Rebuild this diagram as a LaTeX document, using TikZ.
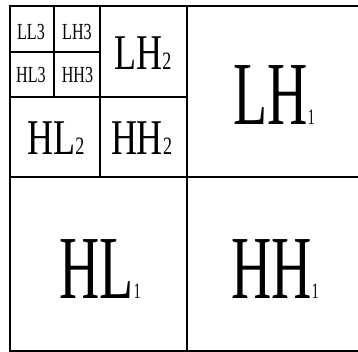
\documentclass[tikz,border=0pt]{standalone}
\usepackage{fontspec}
\setmainfont{Liberation Serif}
\tikzset{
  grid line/.style={line width=1.5pt, black},
  bigtxt/.style={inner sep=0pt, font=\fontsize{90}{90}\selectfont},
  midtxt/.style={inner sep=0pt, font=\fontsize{50}{50}\selectfont},
  smalltxt/.style={inner sep=0pt, font=\fontsize{23}{23}\selectfont},
}
\newcommand{\bigsub}[2]{\scalebox{0.62}[1]{#1{\fontsize{22}{22}\selectfont #2}}}
\newcommand{\midsub}[2]{\scalebox{0.72}[1]{#1{\fontsize{25}{25}\selectfont #2}}}
\newcommand{\smalllab}[1]{\scalebox{0.7}[1]{#1}}
\begin{document}
\begin{tikzpicture}[x=1pt,y=-1pt]
\useasboundingbox (0,0) rectangle (358,352);
% outer frame
\draw[grid line] (358,6) -- (10,6) -- (10,351) -- (358,351);
% level 1
\draw[grid line] (187,6) -- (187,351);
\draw[grid line] (10,177) -- (358,177);
% level 2
\draw[grid line] (100,6) -- (100,177);
\draw[grid line] (10,97) -- (187,97);
% level 3
\draw[grid line] (54,6) -- (54,97);
\draw[grid line] (10,52) -- (100,52);
% labels
\node[bigtxt] (lh1) at (274,95) {\bigsub{LH}{1}};
\node[bigtxt] (hl1) at (100,269) {\bigsub{HL}{1}};
\node[bigtxt] (hh1) at (275,269) {\bigsub{HH}{1}};
\node[midtxt] (lh2) at (143,53.5) {\midsub{LH}{2}};
\node[midtxt] (hl2) at (56,138.5) {\midsub{HL}{2}};
\node[midtxt] (hh2) at (141.5,138.5) {\midsub{HH}{2}};
\node[smalltxt] (ll3) at (31,32.5) {\smalllab{LL3}};
\node[smalltxt] (lh3) at (77,32.5) {\smalllab{LH3}};
\node[smalltxt] (hl3) at (31,75) {\smalllab{HL3}};
\node[smalltxt] (hh3) at (77.5,75) {\smalllab{HH3}};
\end{tikzpicture}
\end{document}
